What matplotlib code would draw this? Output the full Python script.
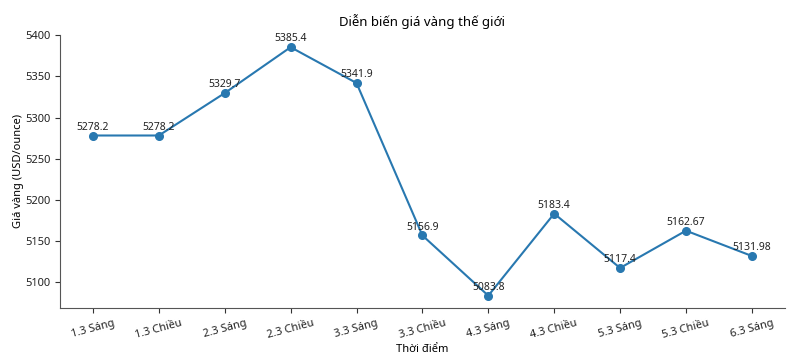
import matplotlib.pyplot as plt

plt.rcParams['font.family'] = ['Noto Sans', 'DejaVu Sans']

labels = ["1.3 Sáng", "1.3 Chiều", "2.3 Sáng", "2.3 Chiều", "3.3 Sáng", "3.3 Chiều",
          "4.3 Sáng", "4.3 Chiều", "5.3 Sáng", "5.3 Chiều", "6.3 Sáng"]
prices = [5278.2, 5278.2, 5329.7, 5385.4, 5341.9, 5156.9,
          5083.8, 5183.4, 5117.4, 5162.67, 5131.98]

fig, ax = plt.subplots(figsize=(8, 3.59), dpi=100)
x = range(len(labels))
ax.plot(x, prices, color='#2878b0', marker='o', markersize=5.5, linewidth=1.5)

for xi, p in zip(x, prices):
    ax.annotate(f"{p:g}", (xi, p), xytext=(0, 2), textcoords='offset points',
                ha='center', va='bottom', fontsize=7.5, color='#222222')

ax.set_xticks(list(x))
ax.set_xticklabels(labels, rotation=15, ha='center', fontsize=8)
ax.tick_params(axis='y', labelsize=8)
ax.tick_params(colors='#333333', labelcolor='#222222')
ax.set_xlim(-0.5, len(labels) - 0.5)
ax.set_ylim(min(prices) - 15, max(prices) + 15)

ax.set_title('Diễn biến giá vàng thế giới', fontsize=9.5)
ax.set_xlabel('Thời điểm', fontsize=8, labelpad=2)
ax.set_ylabel('Giá vàng (USD/ounce)', fontsize=8, labelpad=1)

ax.spines['top'].set_visible(False)
ax.spines['right'].set_visible(False)
for s in ('left', 'bottom'):
    ax.spines[s].set_color('#555555')

fig.subplots_adjust(left=0.075, right=0.981, top=0.903, bottom=0.142)
plt.savefig('out.png')
plt.close()
